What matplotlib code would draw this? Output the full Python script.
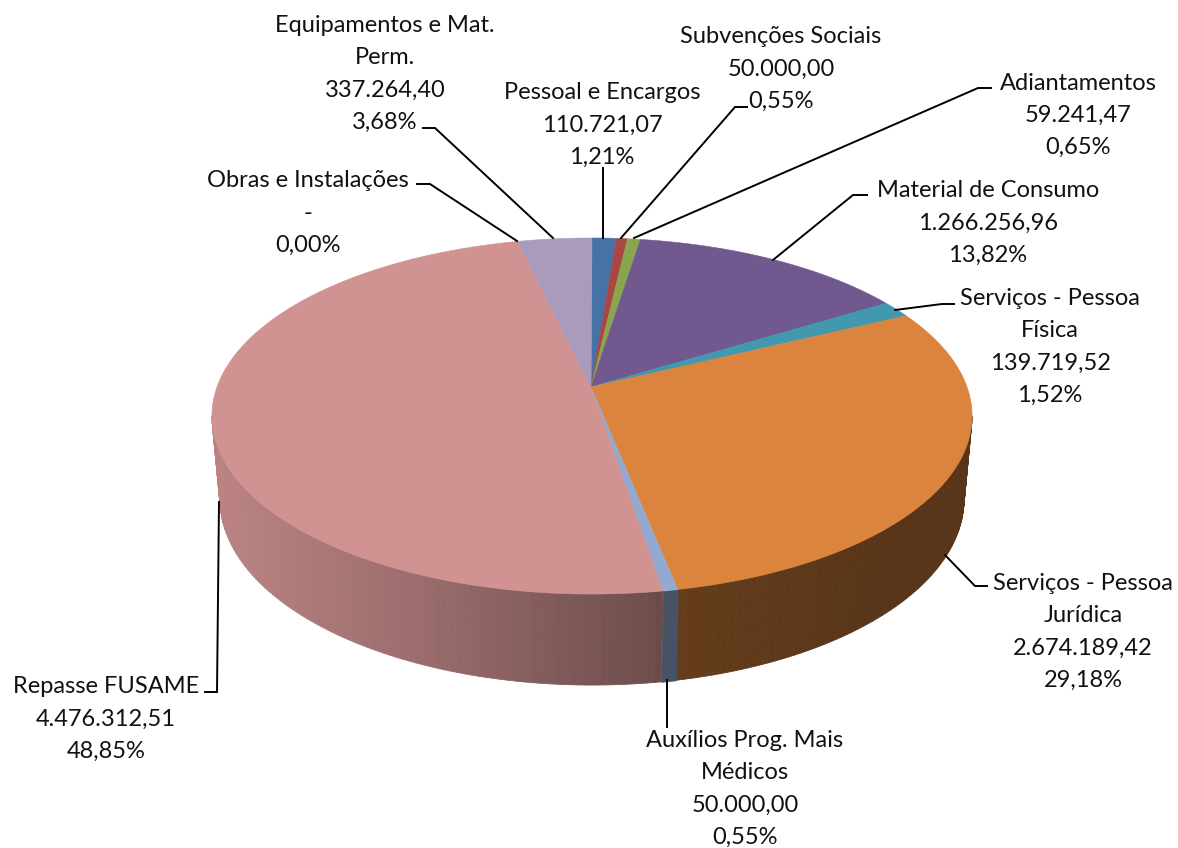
import numpy as np
import matplotlib
matplotlib.use("Agg")
import matplotlib.pyplot as plt
from matplotlib.collections import PolyCollection

categories = ["Pessoal e Encargos", "Subvenções Sociais", "Adiantamentos", "Material de Consumo",
              "Serviços - Pessoa\nFísica", "Serviços - Pessoa\nJurídica", "Auxílios Prog. Mais\nMédicos",
              "Repasse FUSAME", "Obras e Instalações", "Equipamentos e Mat.\nPerm."]
values = [110721.07, 50000.00, 59241.47, 1266256.96, 139719.52, 2674189.42, 50000.00, 4476312.51, 0.0, 337264.40]
colors = ["#4572A7", "#AA4643", "#89A54E", "#71588F", "#4198AF", "#DB843D", "#93A9CF", "#D19392", "#B9CD96", "#A99BBD"]

label_pos = [(602, 125), (781, 69), (1078, 115.5), (988, 223), (1050, 347), (1083, 632), (745, 789), (106, 719), (307.5, 213), (385, 74)]
leaders = [
    [(603, 168), (603, 238)],
    [(747, 107), (735, 107), (621, 238)],
    [(991, 88), (978, 88), (634, 238)],
    [(867, 195), (853, 195), (773, 260)],
    [(954, 304), (942, 304), (895, 310)],
    [(987, 586), (975, 586), (945, 555)],
    [(667, 680), (667, 727)],
    [(205, 692), (217, 692), (219, 502)],
    [(417, 184), (430, 184), (517, 241)],
    [(423, 128), (435, 128), (553, 238)],
]

plt.rcParams["font.family"] = ["Lato", "DejaVu Sans"]
fig = plt.figure(figsize=(11.78, 8.48), dpi=100)
ax = fig.add_axes([0, 0, 1, 1])
ax.set_xlim(0, 1178)
ax.set_ylim(848, 0)
ax.axis("off")

CX, CY_APEX = 592.0, 387.0
K, A, B = 0.163, 173.3, 375.0


def top_xy(t):
    u, v = np.sin(t), np.cos(t)
    d = 1 + K * v
    return CX + B * u / d, CY_APEX - A * v / d


def bottom_xy(t):
    x, y = top_xy(t)
    return CX + (x - CX) * 372 / 380, 499 + (y - 416) * 186 / 178


def shade(x):
    return np.interp(x, [220, 430, 650, 680, 900], [0.89, 0.73, 0.53, 0.46, 0.40])


total = sum(values)
edges = 2 * np.pi * np.concatenate([[0], np.cumsum(values)]) / total

# side wall
vis0, vis1 = np.radians(99.5), np.radians(260.5)
for i, val in enumerate(values):
    a0, a1 = max(edges[i], vis0), min(edges[i + 1], vis1)
    if a1 <= a0:
        continue
    n = max(int(np.degrees(a1 - a0)), 1)
    ts = np.linspace(a0, a1, n + 1)
    xt, yt = top_xy(ts)
    xb, yb = bottom_xy(ts)
    polys, cols = [], []
    base = np.array(matplotlib.colors.to_rgb(colors[i]))
    for j in range(n):
        polys.append([(xt[j], yt[j]), (xt[j + 1], yt[j + 1]), (xb[j + 1], yb[j + 1]), (xb[j], yb[j])])
        cols.append(tuple(base * shade((xt[j] + xt[j + 1]) / 2)))
    ax.add_collection(PolyCollection(polys, facecolors=cols, edgecolors=cols, linewidths=0.6, zorder=2))

# top face
for i, val in enumerate(values):
    if val <= 0:
        continue
    ts = np.linspace(edges[i], edges[i + 1], max(int(np.degrees(edges[i + 1] - edges[i])) * 2, 2) + 1)
    x, y = top_xy(ts)
    ax.fill(np.r_[CX - 1, x], np.r_[CY_APEX, y], facecolor=colors[i], edgecolor=colors[i], linewidth=0.4, zorder=3)

# leaders
for pts in leaders:
    px, py = zip(*pts)
    ax.plot(px, py, color="black", lw=1.4, solid_joinstyle="miter", zorder=4)


def br(v):
    if v == 0:
        return "-"
    return f"{v:,.2f}".replace(",", "X").replace(".", ",").replace("X", ".")


for name, v, (lx, ly) in zip(categories, values, label_pos):
    pct = f"{100 * v / total:.2f}".replace(".", ",") + "%"
    ax.text(lx, ly, f"{name}\n{br(v)}\n{pct}", ha="center", va="center", fontsize=17,
            linespacing=1.66, color="#111111", zorder=5)

fig.savefig("out.png", dpi=100)
